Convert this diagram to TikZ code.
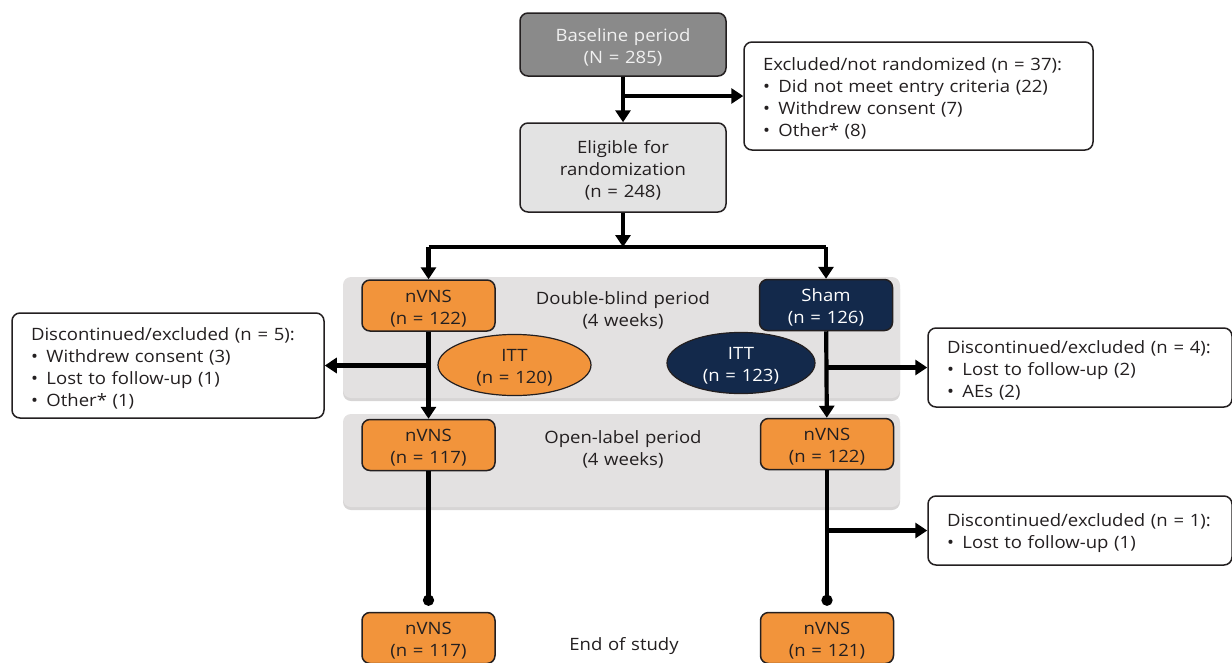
\documentclass[tikz,border=0pt]{standalone}
\usepackage{fontspec}
\setmainfont{Open Sans}[FakeStretch=1.09]
\usetikzlibrary{arrows.meta,shapes.geometric}
\definecolor{nvorange}{HTML}{F2943B}
\definecolor{shamnavy}{HTML}{13294B}
\definecolor{basegray}{HTML}{8A8A8A}
\definecolor{eliggray}{HTML}{E3E3E3}
\definecolor{bandgray}{HTML}{E3E1E1}
\definecolor{bandshade}{HTML}{D7D5D5}
\definecolor{inkgray}{HTML}{231F20}
\newcommand{\itm}{\textbullet\hspace{0.5em}}
\tikzset{
	box/.style={draw=inkgray, line width=1.5pt, rounded corners=8pt, minimum width=133pt, minimum height=51pt,
		text width=133pt, inner sep=0pt, align=center, text=inkgray, font=\fontsize{17}{22}\selectfont,
		execute at begin node={\rule{0pt}{18.5pt}}},
	nvbox/.style={box, fill=nvorange},
	shambox/.style={box, fill=shamnavy, text=white},
	note/.style={box, fill=white, align=left, inner xsep=19pt},
	itt/.style={ellipse, draw=inkgray, line width=1.2pt, minimum height=56pt, text width=100pt,
		inner sep=0pt, align=center, font=\fontsize{17}{22}\selectfont,
		execute at begin node={\rule{0pt}{18.5pt}}},
	period/.style={align=center, text width=200pt, inner sep=0pt, text=inkgray, font=\fontsize{17}{22}\selectfont,
		execute at begin node={\rule{0pt}{18.5pt}}},
	band/.style={fill=bandgray, rounded corners=8pt},
	flow/.style={line width=4.2pt, draw=black},
	arr/.style={flow, -{Triangle[length=12pt, width=15pt]}},
	stop/.style={flow, -{Circle[length=11pt]}, shorten >=6pt}
}
\begin{document}
\begin{tikzpicture}[x=1pt, y=-1pt]
	\useasboundingbox (0,0) rectangle (1232,662);
	% period bands
	\fill[band, fill=bandshade] (343,281) rectangle (900,401);
	\fill[band] (343,277) rectangle (900,398);
	\fill[band, fill=bandshade] (343,418) rectangle (900,510);
	\fill[band] (343,414) rectangle (900,507);
	\node[period] (dblind) at (623,308) {Double-blind period\\(4 weeks)};
	\node[period] (olabel) at (623,447) {Open-label period\\(4 weeks)};
	\node[period] (eos) at (624,643) {End of study};

	% screening
	\node[box, fill=basegray, text=white!94!black, minimum width=206pt, text width=206pt, minimum height=63pt] (base) at (623,44.5) {Baseline period\\(N = 285)};
	\node[box, fill=eliggray, minimum width=206pt, text width=206pt, minimum height=89pt] (elig) at (623,167.5) {Eligible for\\randomization\\(n = 248)};
	\node[note, text width=311pt, minimum height=108pt] (excl) at (918.5,96) {Excluded/not randomized (n = 37):\\\itm Did not meet entry criteria (22)\\\itm Withdrew consent (7)\\\itm Other* (8)};
	\coordinate (split) at (623,247);

	% arms
	\node[nvbox] (nv1) at (428.5,305.5) {nVNS\\(n = 122)};
	\node[shambox] (sham) at (826,305) {Sham\\(n = 126)};
	\node[itt, fill=nvorange, text=inkgray, minimum width=153pt] (itt1) at (514.5,365) {ITT\\(n = 120)};
	\node[itt, fill=shamnavy, text=white, minimum width=148pt] (itt2) at (741,363) {ITT\\(n = 123)};
	\node[note, text width=274pt, minimum height=105pt] (disc1) at (168,365.5) {Discontinued/excluded (n = 5):\\\itm Withdrew consent (3)\\\itm Lost to follow-up (1)\\\itm Other* (1)};
	\node[note, text width=266pt, minimum height=79pt] (disc2) at (1080,367.5) {Discontinued/excluded (n = 4):\\\itm Lost to follow-up (2)\\\itm AEs (2)};
	\node[nvbox] (nv2) at (428.5,445) {nVNS\\(n = 117)};
	\node[nvbox] (nv3) at (827,444) {nVNS\\(n = 122)};
	\node[note, text width=266pt, minimum height=69pt] (disc3) at (1080,530.5) {Discontinued/excluded (n = 1):\\\itm Lost to follow-up (1)};
	\node[nvbox] (end1) at (428.5,638) {nVNS\\(n = 117)};
	\node[nvbox] (end2) at (827,638) {nVNS\\(n = 121)};

	% connectors
	\draw[arr] (base) -- (elig);
	\draw[arr] (base.south |- excl.west) -- (excl.west);
	\draw[arr] (elig) -- (split);
	\draw[flow] (split -| nv1) -- (split -| sham);
	\draw[arr] (split -| nv1) -- (nv1);
	\draw[arr] (split -| sham) -- (sham);
	\draw[arr] (nv1) -- (nv2);
	\draw[arr] (nv1.south |- disc1.east) -- (disc1.east);
	\draw[arr] (sham) -- (nv3);
	\draw[arr] (sham.south |- disc2.west) -- (disc2.west);
	\draw[stop] (nv2) -- (end1);
	\draw[stop] (nv3) -- (end2);
	\draw[arr] (nv3.south |- disc3.west) -- (disc3.west);
\end{tikzpicture}
\end{document}
